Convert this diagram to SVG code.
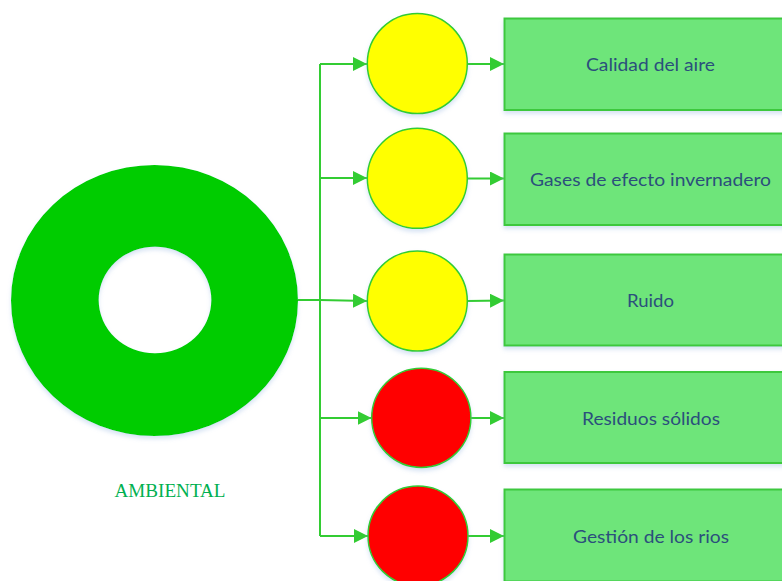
<svg xmlns="http://www.w3.org/2000/svg" width="782" height="581" viewBox="0 0 782 581">
<style>
.conn{fill:none;stroke:#33cc33;stroke-width:2}
.yel{fill:#ffff00;stroke:#33cc33;stroke-width:1.5}
.red{fill:#ff0000;stroke:#33cc33;stroke-width:1.5}
.box{fill:#6ee57a;stroke:#3dc83d;stroke-width:2}
.lbl{font-family:Lato,"Open Sans","Noto Sans",sans-serif;font-size:18px;fill:#2b4f7c;text-anchor:middle}
.title{font-family:"Liberation Serif","Times New Roman",serif;font-size:19px;fill:#00b050;text-anchor:middle}
</style>
<defs>
<filter id="sh" x="-10%" y="-10%" width="120%" height="125%">
<feDropShadow dx="0" dy="3" stdDeviation="2" flood-color="#8fb0e0" flood-opacity="0.35"/>
</filter>
<marker id="ar" viewBox="0 0 14 14" refX="14" refY="7" markerWidth="14" markerHeight="14" markerUnits="userSpaceOnUse" orient="auto">
<path d="M0,0 L14,7 L0,14 Z" fill="#33cc33"/>
</marker>
</defs>
<g id="ambiental">
<path d="M11,300.5 A143.5,135.5 0 1,0 298,300.5 A143.5,135.5 0 1,0 11,300.5 Z M98.7,300 A56.3,53.3 0 1,1 211.3,300 A56.3,53.3 0 1,1 98.7,300 Z" fill="#00cc00" fill-rule="evenodd" filter="url(#sh)"/>
<text class="title" x="170" y="497" textLength="111" lengthAdjust="spacingAndGlyphs">AMBIENTAL</text>
</g>
<g id="connectors">
<path class="conn" d="M320,64 L320,536"/>
<path class="conn" d="M298,300 L320,300"/>
<path class="conn" d="M320,64 L367,64" marker-end="url(#ar)"/>
<path class="conn" d="M320,178 L367,178" marker-end="url(#ar)"/>
<path class="conn" d="M320,300 L367,301" marker-end="url(#ar)"/>
<path class="conn" d="M320,418 L371.5,418" marker-end="url(#ar)"/>
<path class="conn" d="M320,536 L368,536" marker-end="url(#ar)"/>
<path class="conn" d="M467,64 L504,64" marker-end="url(#ar)"/>
<path class="conn" d="M467,178.5 L504,178.5" marker-end="url(#ar)"/>
<path class="conn" d="M467,301 L504,300.5" marker-end="url(#ar)"/>
<path class="conn" d="M471,418 L504,418" marker-end="url(#ar)"/>
<path class="conn" d="M468,536 L504,536" marker-end="url(#ar)"/>
</g>
<g id="c1"><circle class="yel" cx="417.3" cy="63.5" r="50" filter="url(#sh)"/></g>
<g id="c2"><circle class="yel" cx="417.3" cy="178.3" r="50" filter="url(#sh)"/></g>
<g id="c3"><circle class="yel" cx="417.3" cy="301" r="50" filter="url(#sh)"/></g>
<g id="c4"><circle class="red" cx="421.3" cy="417.8" r="49.6" filter="url(#sh)"/></g>
<g id="c5"><circle class="red" cx="418" cy="536" r="50" filter="url(#sh)"/></g>
<g id="r1"><rect class="box" x="504.5" y="18.5" width="282" height="91.5" filter="url(#sh)"/><text class="lbl" x="650.5" y="71" textLength="129" lengthAdjust="spacingAndGlyphs">Calidad del aire</text></g>
<g id="r2"><rect class="box" x="504.5" y="133.5" width="282" height="91.5" filter="url(#sh)"/><text class="lbl" x="650.5" y="185.5" textLength="241" lengthAdjust="spacingAndGlyphs">Gases de efecto invernadero</text></g>
<g id="r3"><rect class="box" x="504.5" y="254.5" width="282" height="91" filter="url(#sh)"/><text class="lbl" x="650.5" y="306.7" textLength="47" lengthAdjust="spacingAndGlyphs">Ruido</text></g>
<g id="r4"><rect class="box" x="504.5" y="372" width="282" height="91" filter="url(#sh)"/><text class="lbl" x="651" y="425" textLength="138" lengthAdjust="spacingAndGlyphs">Residuos sólidos</text></g>
<g id="r5"><rect class="box" x="504.5" y="489.5" width="282" height="92" filter="url(#sh)"/><text class="lbl" x="651" y="542.5" textLength="156" lengthAdjust="spacingAndGlyphs">Gestión de los rios</text></g>
</svg>
